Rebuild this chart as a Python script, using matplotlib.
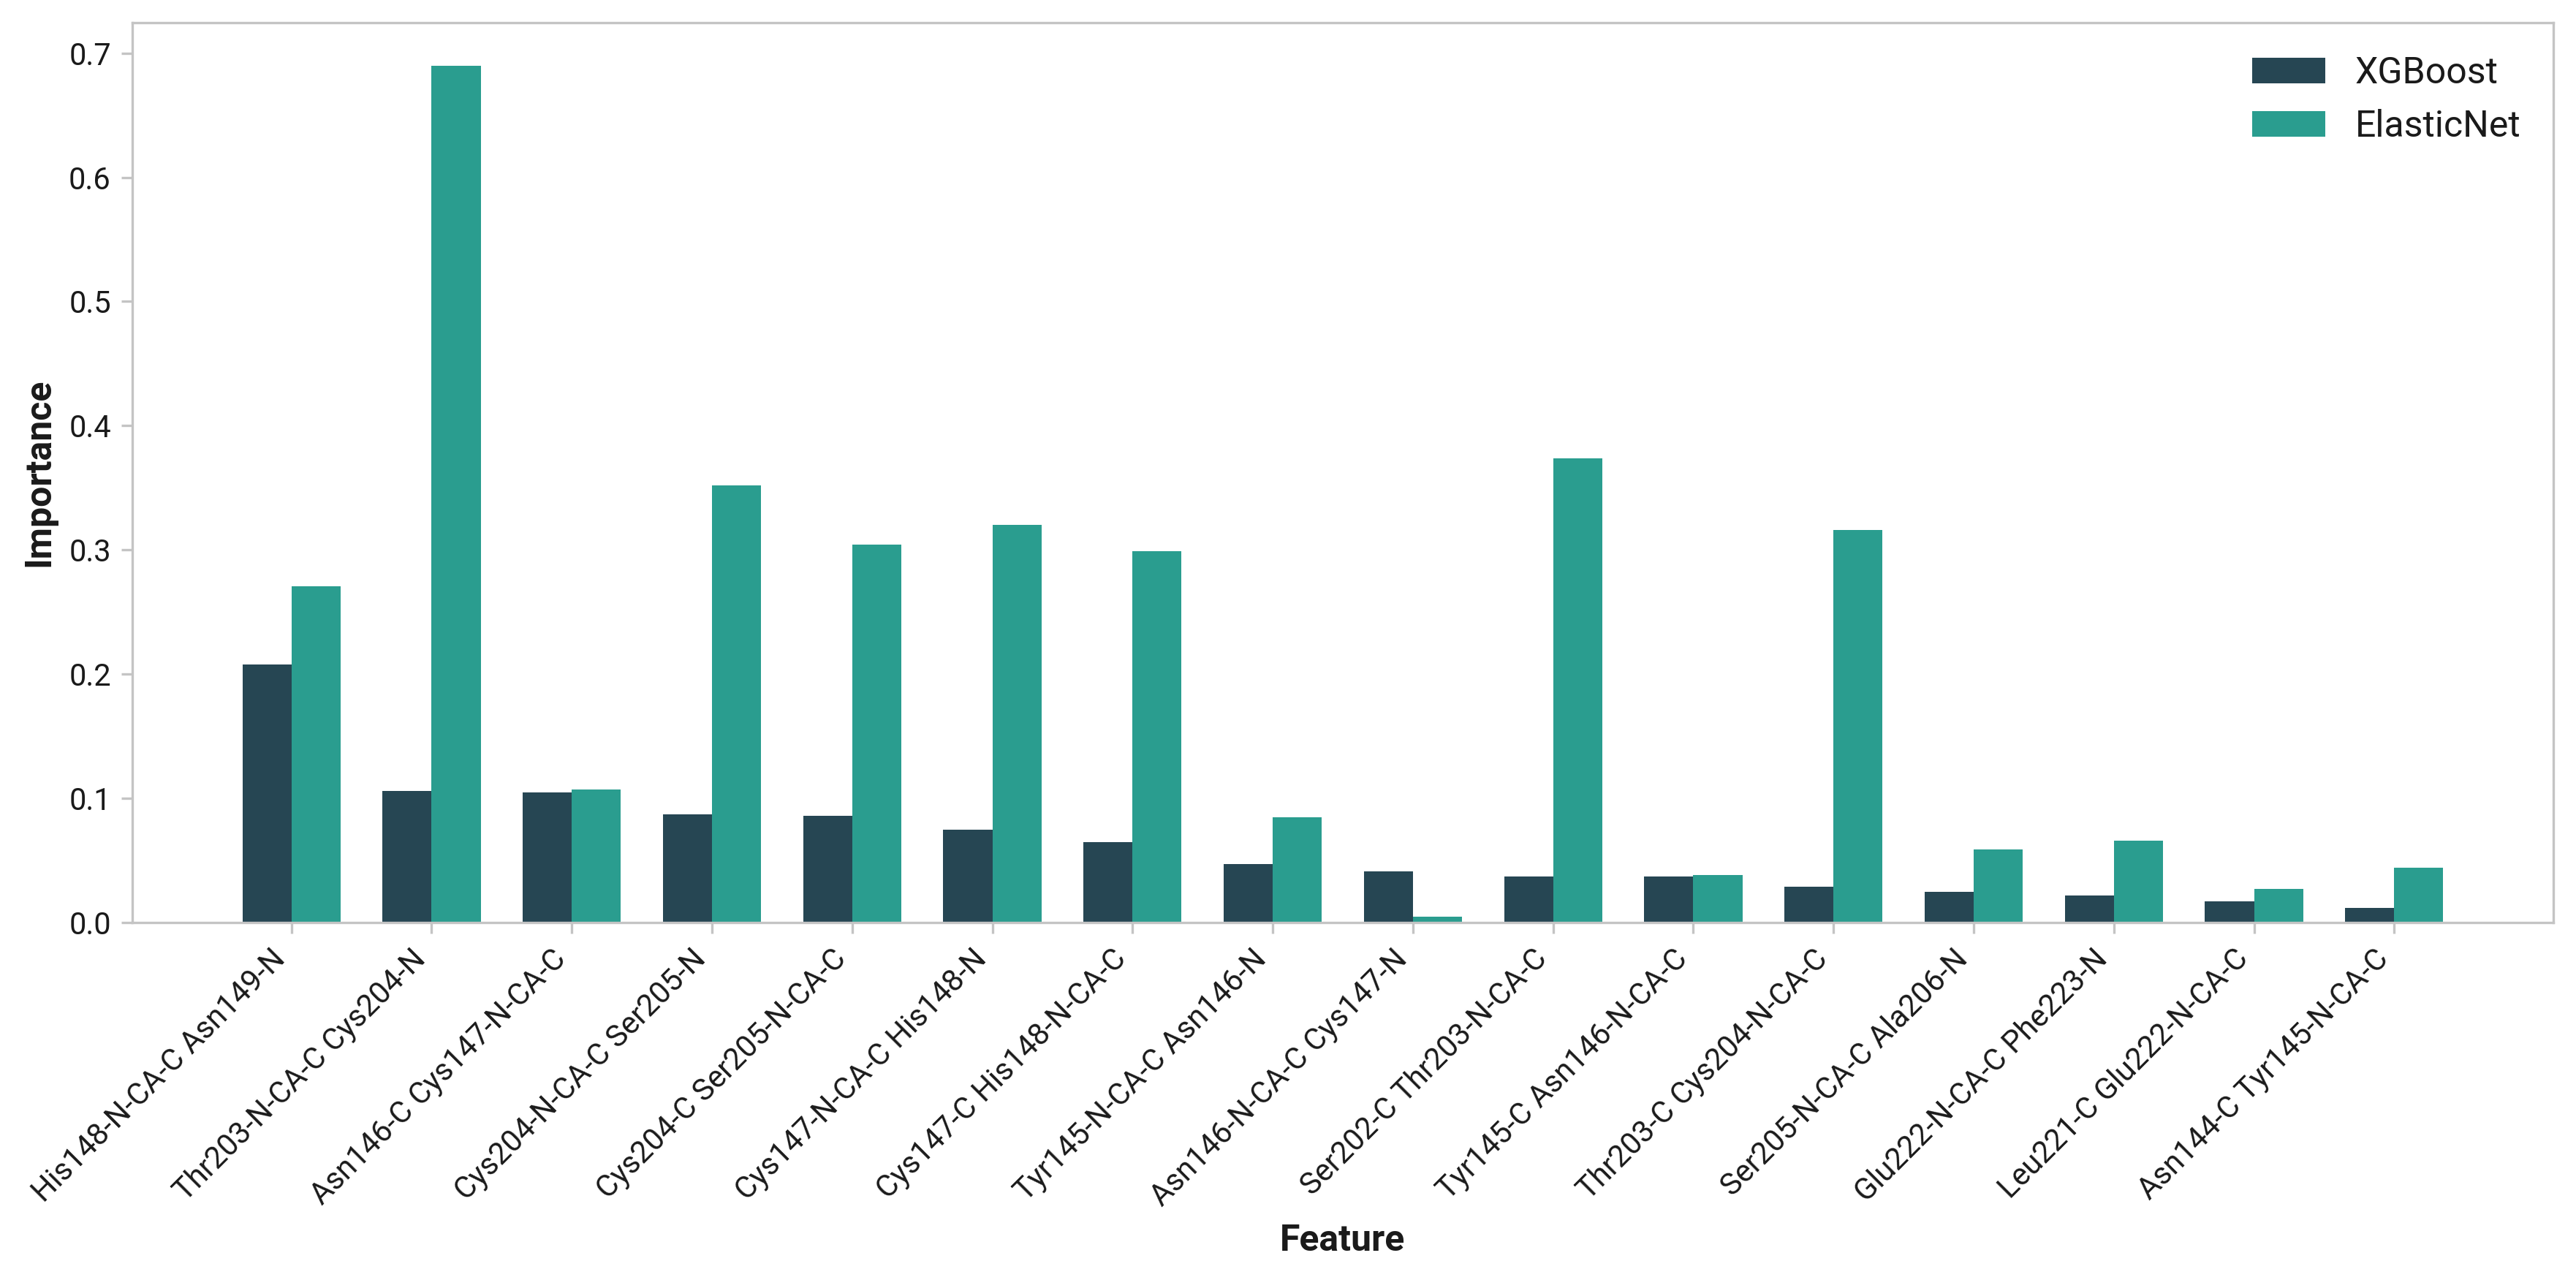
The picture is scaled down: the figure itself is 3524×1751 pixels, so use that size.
import numpy as np
import matplotlib
matplotlib.use("Agg")
import matplotlib.pyplot as plt

features = [
    "His148-N-CA-C Asn149-N",
    "Thr203-N-CA-C Cys204-N",
    "Asn146-C Cys147-N-CA-C",
    "Cys204-N-CA-C Ser205-N",
    "Cys204-C Ser205-N-CA-C",
    "Cys147-N-CA-C His148-N",
    "Cys147-C His148-N-CA-C",
    "Tyr145-N-CA-C Asn146-N",
    "Asn146-N-CA-C Cys147-N",
    "Ser202-C Thr203-N-CA-C",
    "Tyr145-C Asn146-N-CA-C",
    "Thr203-C Cys204-N-CA-C",
    "Ser205-N-CA-C Ala206-N",
    "Glu222-N-CA-C Phe223-N",
    "Leu221-C Glu222-N-CA-C",
    "Asn144-C Tyr145-N-CA-C",
]
xgboost = [0.208, 0.106, 0.105, 0.087, 0.086, 0.075, 0.065, 0.047,
           0.041, 0.037, 0.037, 0.029, 0.025, 0.022, 0.017, 0.012]
elasticnet = [0.271, 0.690, 0.107, 0.352, 0.304, 0.320, 0.299, 0.085,
              0.005, 0.374, 0.038, 0.316, 0.059, 0.066, 0.027, 0.044]

plt.rcParams['font.family'] = ['Roboto', 'DejaVu Sans']
plt.rcParams['text.color'] = '#1a1a1a'
plt.rcParams['axes.labelcolor'] = '#1a1a1a'
plt.rcParams['xtick.labelcolor'] = '#1a1a1a'
plt.rcParams['ytick.labelcolor'] = '#1a1a1a'

fig = plt.figure(figsize=(3524 / 300, 1751 / 300), dpi=300)
ax = fig.add_axes([181 / 3524, 1 - 1262 / 1751, (3493 - 181) / 3524, (1262 - 31) / 1751])

x = np.arange(len(features))
width = 0.35
ax.bar(x - width / 2, xgboost, width, color="#264653", label="XGBoost")
ax.bar(x + width / 2, elasticnet, width, color="#2a9d8f", label="ElasticNet")

ax.set_xticks(x)
ax.set_xticklabels(features, rotation=45, ha="right", fontsize=10)
ax.tick_params(axis="y", labelsize=10)
ax.tick_params(axis="both", color="#c4c4c4", width=0.8, length=3.5)
for s in ax.spines.values():
    s.set_color("#c4c4c4")
    s.set_linewidth(0.8)

ax.set_xlabel("Feature", fontsize=12, fontweight="bold")
ax.set_ylabel("Importance", fontsize=12, fontweight="bold")
ax.legend(loc="upper right", frameon=False, fontsize=12)

fig.savefig("out.png", dpi=300)
